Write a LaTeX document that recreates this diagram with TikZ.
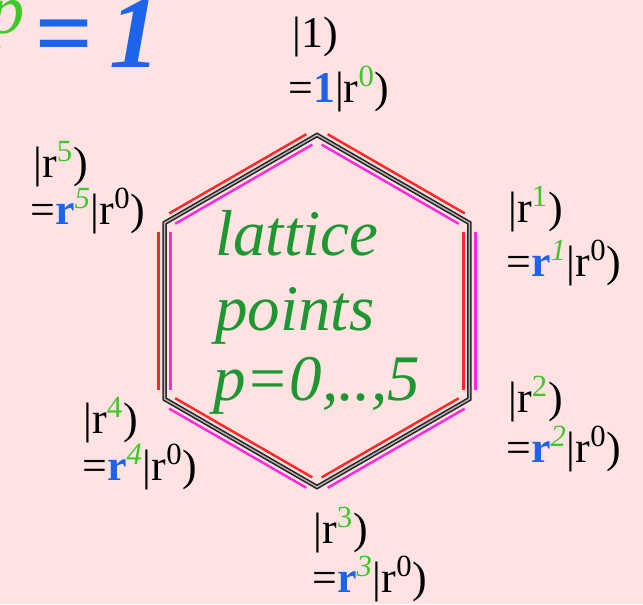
\documentclass[tikz,border=0pt]{standalone}
\usepackage{fontspec}
\setmainfont{Liberation Serif}
\usetikzlibrary{calc}

\definecolor{bgpink}{RGB}{255,226,226}
\definecolor{eqblue}{RGB}{30,100,235}
\definecolor{txtgreen}{RGB}{30,150,50}
\definecolor{supgreen}{RGB}{60,200,40}
\definecolor{sidered}{RGB}{255,40,40}
\definecolor{sidemag}{RGB}{255,40,220}

\newcommand{\rblue}{\textcolor{eqblue}{\textbf{r}}}
\newcommand{\pw}[1]{\textsuperscript{\textcolor{supgreen}{#1}}}
\newcommand{\pwi}[1]{\textsuperscript{\textcolor{supgreen}{\itshape #1}}}

\tikzset{
  hexline/.style={draw=black!85, line width=0.9pt, double=gray!60, double distance=0.8pt, line join=miter},
  redside/.style={sidered, line width=1.4pt},
  magside/.style={sidemag, line width=1.4pt},
  ket/.style={inner sep=0pt, anchor=base west, font=\fontsize{25}{30}\selectfont},
  bigtext/.style={inner sep=0pt, anchor=base west, text=txtgreen, font=\fontsize{37}{44}\selectfont\itshape}
}

\begin{document}
\begin{tikzpicture}
    % background
    \fill[bgpink] (0,0) rectangle (12.86,12.08);
    \useasboundingbox (0,0) rectangle (12.86,12.08);
    \clip (0,0) rectangle (12.86,12.08);
    % corners
    \foreach \k in {0,...,5}
        \coordinate (v\k) at ($(6.34,5.86)+({90-60*\k}:3.52)$);
    % red and magenta side lines
    \foreach \k/\s in {0/1,1/-1,2/-1,3/-1,4/1,5/1}{
        \pgfmathtruncatemacro{\n}{mod(\k+1,6)}
        \draw[redside] ($(v\k)!0.05!(v\n)+({60-60*\k}:{0.12*\s})$) -- ($(v\k)!0.95!(v\n)+({60-60*\k}:{0.12*\s})$);
        \draw[magside] ($(v\k)!0.05!(v\n)+({60-60*\k}:{-0.12*\s})$) -- ($(v\k)!0.95!(v\n)+({60-60*\k}:{-0.12*\s})$);
    }
    % hexagon
    \draw[hexline] (v0) -- (v1) -- (v2) -- (v3) -- (v4) -- (v5) -- cycle;
    % top left
    \node[anchor=base east, inner sep=0pt, text=supgreen, font=\fontsize{40}{40}\selectfont\itshape] (pexp) at (0.50,11.42) {p};
    \node[anchor=base west, inner sep=0pt, text=eqblue, font=\fontsize{58}{58}\selectfont\bfseries\itshape] (one) at (0.68,10.74) {=\,1};
    % kets
    \node[ket] (k0a) at (5.84,11.14) {|1)};
    \node[ket] (k0b) at (5.76,10.04) {=\textcolor{eqblue}{\textbf{1}}|r\pw{0})};
    \node[ket] (k1a) at (10.16,7.64) {|r\pw{1})};
    \node[ket] (k1b) at (10.12,6.56) {=\rblue\pwi{1}|r\textsuperscript{0})};
    \node[ket] (k2a) at (10.16,3.84) {|r\pw{2})};
    \node[ket] (k2b) at (10.12,2.84) {=\rblue\pwi{2}|r\textsuperscript{0})};
    \node[ket] (k3a) at (6.26,1.22) {|r\pw{3})};
    \node[ket] (k3b) at (6.24,0.24) {=\rblue\pwi{3}|r\textsuperscript{0})};
    \node[ket] (k4a) at (1.66,3.42) {|r\pw{4})};
    \node[ket] (k4b) at (1.64,2.48) {=\rblue\pwi{4}|r\textsuperscript{0})};
    \node[ket] (k5a) at (0.66,8.54) {|r\pw{5})};
    \node[ket] (k5b) at (0.60,7.60) {=\rblue\pwi{5}|r\textsuperscript{0})};
    % centre text
    \node[bigtext] (lat) at (4.30,6.98) {lattice};
    \node[bigtext] (pts) at (4.30,5.48) {points};
    \node[bigtext] (rng) at (4.26,4.08) {p=0,..,5};
\end{tikzpicture}
\end{document}
